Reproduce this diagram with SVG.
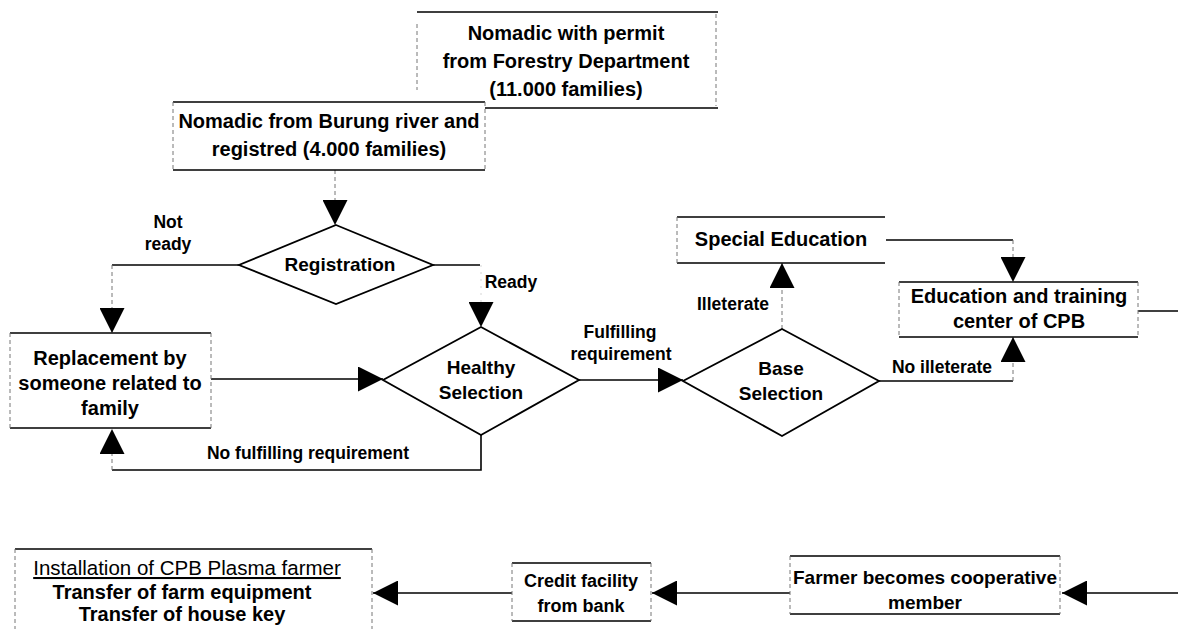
<svg xmlns="http://www.w3.org/2000/svg" width="1178" height="629" viewBox="0 0 1178 629">
  <style>
    .edge { stroke: #000; stroke-width: 1.6; fill: none; }
    .side { stroke: #777; stroke-width: 1; stroke-dasharray: 4 3; fill: none; }
    .fill { fill: #fff; stroke: none; }
    .dia { fill: #fff; stroke: #000; stroke-width: 1.8; }
    .wire { stroke: #000; stroke-width: 1.6; fill: none; }
    .faint { stroke: #777; stroke-width: 1; stroke-dasharray: 4 3; fill: none; }
    .ghost { stroke: #ccc; stroke-width: 0.8; stroke-dasharray: 2 5; fill: none; }
    text { font-family: "Liberation Sans", Arial, sans-serif; fill: #000; text-anchor: middle; }
    .bx { font-size: 20px; font-weight: bold; }
    .dm { font-size: 19px; font-weight: bold; }
    .lb { font-size: 17.5px; font-weight: bold; }
    .ul { font-size: 20.5px; font-weight: normal; text-decoration: underline; }
  </style>
  <defs>
    <marker id="arr" viewBox="0 0 25 25" refX="25" refY="12.5" markerWidth="25" markerHeight="25" markerUnits="userSpaceOnUse" orient="auto">
      <path d="M0,0 L25,12.5 L0,25 Z" fill="#000"/>
    </marker>
  </defs>
  <rect width="1178" height="629" fill="#fff"/>

  <!-- connectors: solid horizontal runs, dashed vertical drops into the arrowheads -->
  <g id="connectors">
    <path class="faint" d="M335,170 V225" marker-end="url(#arr)"/>
    <path class="wire" d="M239,265 H112"/>
    <path class="faint" d="M112,265 V333" marker-end="url(#arr)"/>
    <path class="wire" d="M433,265 H480"/>
    <path class="ghost" d="M481,265 V327" marker-end="url(#arr)"/>
    <path class="wire" d="M211,379 H383" marker-end="url(#arr)"/>
    <path class="wire" d="M481,435 V470 H112"/>
    <path class="faint" d="M112,470 V429" marker-end="url(#arr)"/>
    <path class="wire" d="M579,380 H683" marker-end="url(#arr)"/>
    <path class="faint" d="M782,329 V263" marker-end="url(#arr)"/>
    <path class="wire" d="M879,381 H1013"/>
    <path class="faint" d="M1013,381 V337" marker-end="url(#arr)"/>
    <path class="wire" d="M886,240 H1013"/>
    <path class="faint" d="M1013,240 V282" marker-end="url(#arr)"/>
    <path class="wire" d="M1138,311 H1178"/>
    <path class="wire" d="M1178,593 H1062" marker-end="url(#arr)"/>
    <path class="wire" d="M790,593 H652" marker-end="url(#arr)"/>
    <path class="wire" d="M512,593 H373" marker-end="url(#arr)"/>
  </g>

  <!-- connector labels -->
  <g id="labels">
    <text class="lb" x="168" y="228">Not</text>
    <text class="lb" x="168" y="250">ready</text>
    <text class="lb" x="511" y="288">Ready</text>
    <text class="lb" x="620" y="338">Fulfilling</text>
    <text class="lb" x="621" y="360">requirement</text>
    <text class="lb" x="308" y="459">No fulfilling requirement</text>
    <text class="lb" x="733" y="310">Illeterate</text>
    <text class="lb" x="942" y="373">No illeterate</text>
  </g>

  <g id="forestry">
    <rect class="fill" x="417" y="12" width="301" height="96"/>
    <path class="edge" d="M417,12 H718 M417,108 H718"/>
    <path class="side" d="M417,24 V90 M716,14 V106"/>
    <text class="bx" x="566" y="40">Nomadic with permit</text>
    <text class="bx" x="566" y="68">from Forestry Department</text>
    <text class="bx" x="566" y="96">(11.000 families)</text>
  </g>

  <g id="burung">
    <rect class="fill" x="173" y="102" width="312" height="68"/>
    <path class="edge" d="M173,102 H485 M173,170 H485"/>
    <path class="side" d="M173,102 V170 M485,102 V170"/>
    <text class="bx" x="329" y="128">Nomadic from Burung river and</text>
    <text class="bx" x="329" y="156">registred (4.000 families)</text>
  </g>

  <g id="registration">
    <polygon class="dia" points="336,225 433,265 336,304 239,265"/>
    <text class="dm" x="340" y="271">Registration</text>
  </g>

  <g id="replacement">
    <rect class="fill" x="10" y="333" width="201" height="95"/>
    <path class="edge" d="M10,333 H211 M10,428 H211"/>
    <path class="side" d="M10,333 V428 M211,333 V428"/>
    <text class="bx" x="110" y="365">Replacement by</text>
    <text class="bx" x="110" y="390">someone related to</text>
    <text class="bx" x="110" y="415">family</text>
  </g>

  <g id="healthy">
    <polygon class="dia" points="481,327 579,380 481,435 383,380"/>
    <text class="dm" x="481" y="374">Healthy</text>
    <text class="dm" x="481" y="399">Selection</text>
  </g>

  <g id="base">
    <polygon class="dia" points="782,329 879,381 782,436 683,381"/>
    <text class="dm" x="781" y="375">Base</text>
    <text class="dm" x="781" y="400">Selection</text>
  </g>

  <g id="special">
    <rect class="fill" x="677" y="217" width="208" height="46"/>
    <path class="edge" d="M677,217 H885 M677,263 H885"/>
    <path class="side" d="M677,217 V263"/>
    <text class="bx" x="781" y="246">Special Education</text>
  </g>

  <g id="training">
    <rect class="fill" x="899" y="282" width="239" height="55"/>
    <path class="edge" d="M899,282 H1138 M899,337 H1138"/>
    <path class="side" d="M899,282 V337 M1138,282 V337"/>
    <text class="bx" x="1019" y="303">Education and training</text>
    <text class="bx" x="1019" y="328">center of CPB</text>
  </g>

  <g id="installation">
    <rect class="fill" x="15" y="549" width="357" height="80"/>
    <path class="edge" d="M15,549 H372"/>
    <path class="side" d="M15,549 V629 M372,549 V629"/>
    <text class="ul" x="187" y="575">Installation of CPB Plasma farmer</text>
    <text class="bx" x="182" y="599">Transfer of farm equipment</text>
    <text class="bx" x="182" y="621">Transfer of house key</text>
  </g>

  <g id="credit">
    <rect class="fill" x="512" y="563" width="139" height="58"/>
    <path class="edge" d="M512,563 H651 M512,621 H651"/>
    <path class="side" d="M512,563 V621 M651,563 V621"/>
    <text class="bx" x="581" y="587" style="font-size:18px">Credit facility</text>
    <text class="bx" x="581" y="612" style="font-size:18px">from bank</text>
  </g>

  <g id="cooperative">
    <rect class="fill" x="790" y="556" width="270" height="58"/>
    <path class="edge" d="M790,556 H1060 M790,614 H1060"/>
    <path class="side" d="M790,556 V614 M1060,556 V614"/>
    <text class="bx" x="925" y="584" style="font-size:19px">Farmer becomes cooperative</text>
    <text class="bx" x="925" y="609" style="font-size:19px">member</text>
  </g>
</svg>
